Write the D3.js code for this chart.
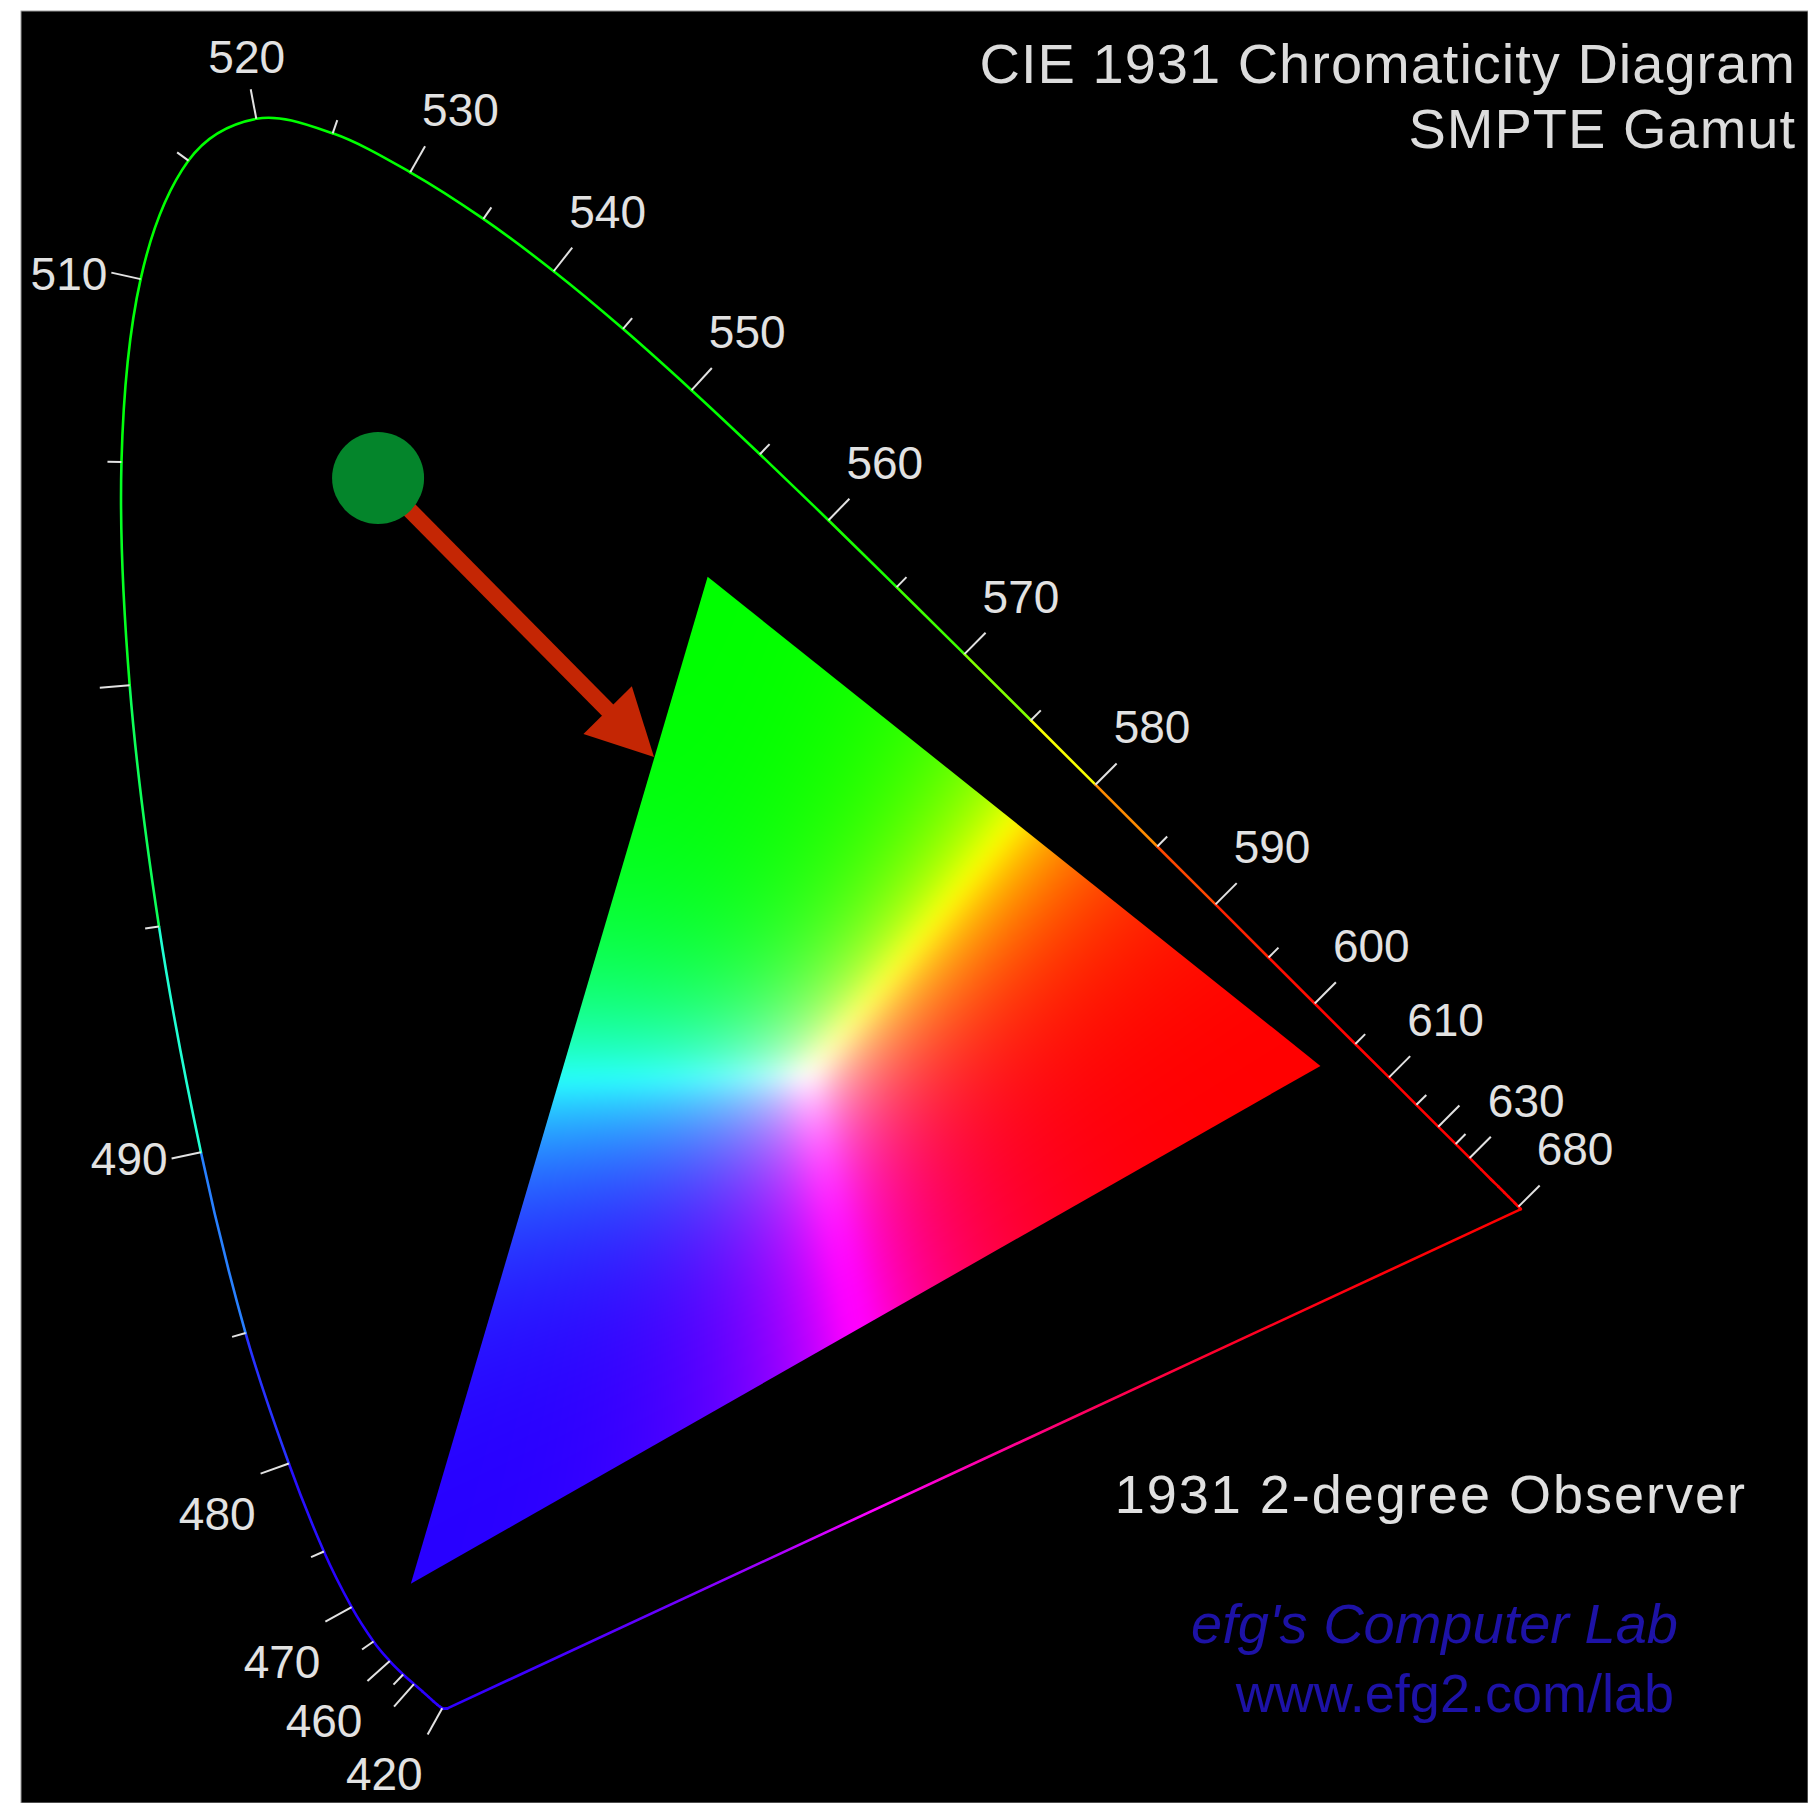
<!DOCTYPE html>
<html>
<head>
<meta charset="utf-8">
<script src="https://cdn.jsdelivr.net/npm/d3@7"></script>
<style>
  body { margin: 0; background: #fff; }
  svg { display: block; }
  text { font-family: "Liberation Sans", Arial, sans-serif; }
</style>
</head>
<body>
<div id="chart"></div>
<script>
// CIE 1931 2-degree observer, spectral locus (nm, x, y)
const wavelengths = [380,385,390,395,400,405,410,415,420,425,430,435,440,445,450,455,460,465,470,475,
  480,485,490,495,500,505,510,515,520,525,530,535,540,545,550,555,560,565,570,575,
  580,585,590,595,600,605,610,615,620,625,630,635,640,645,650,655,660,665,670,675,
  680,685,690,695,700];
const locusX = [0.1741,0.1740,0.1738,0.1736,0.1733,0.1730,0.1726,0.1721,0.1714,0.1703,0.1689,0.1669,0.1644,0.1611,0.1566,0.1510,0.1440,0.1355,0.1241,0.1096,
  0.0913,0.0687,0.0454,0.0235,0.0082,0.0039,0.0139,0.0389,0.0743,0.1142,0.1547,0.1929,0.2296,0.2658,0.3016,0.3373,0.3731,0.4087,0.4441,0.4788,
  0.5125,0.5448,0.5752,0.6029,0.6270,0.6482,0.6658,0.6801,0.6915,0.7006,0.7079,0.7140,0.7190,0.7230,0.7260,0.7283,0.7300,0.7311,0.7320,0.7327,
  0.7334,0.7340,0.7344,0.7346,0.7347];
const locusY = [0.0050,0.0050,0.0049,0.0049,0.0048,0.0048,0.0048,0.0048,0.0051,0.0058,0.0069,0.0086,0.0109,0.0138,0.0177,0.0227,0.0297,0.0399,0.0578,0.0868,
  0.1327,0.2007,0.2950,0.4127,0.5384,0.6548,0.7502,0.8120,0.8338,0.8262,0.8059,0.7816,0.7543,0.7243,0.6923,0.6589,0.6245,0.5896,0.5547,0.5202,
  0.4866,0.4544,0.4242,0.3965,0.3725,0.3514,0.3340,0.3197,0.3083,0.2993,0.2920,0.2859,0.2809,0.2770,0.2740,0.2717,0.2700,0.2689,0.2680,0.2673,
  0.2666,0.2660,0.2656,0.2654,0.2653];

// tick marks and labelled wavelengths
const tickWaves = [420,450,455,460,465,470,475,480,485,490,495,500,505,510,515,520,525,530,535,540,545,
  550,555,560,565,570,575,580,585,590,595,600,605,610,615,620,625,630,680];
const labelWaves = [420,460,470,480,490,510,520,530,540,550,560,570,580,590,600,610,630,680];

// SMPTE gamut primaries (R, G, B)
const gamutNames = ["R", "G", "B"];
const gamutX = [0.630, 0.310, 0.155];
const gamutY = [0.340, 0.595, 0.070];

// annotation: dot and arrow pointing at the gamut
const markerXY = [0.1379, 0.6465];
const arrowTipXY = [0.282, 0.501];

const width = 1808, height = 1803;

let svg = d3.select("#chart")
  .append("svg")
  .attr("width", width)
  .attr("height", height)
  .attr("viewBox", [0, 0, width, height]);

let x = d3.scaleLinear().domain([0, 1]).range([114, 2029]);
let y = d3.scaleLinear().domain([0, 1]).range([1718, -200]);

// black plot area with white margin on left/top
svg.append("rect")
  .attr("x", 21).attr("y", 11)
  .attr("width", width - 21).attr("height", height - 11)
  .attr("fill", "#000")
  .attr("stroke", "#9a9a9a").attr("stroke-width", 1);

// barycentric weights of a chromaticity against the gamut primaries
function bary(cx, cy) {
  const [xr, xg, xb] = gamutX, [yr, yg, yb] = gamutY;
  const det = (xr - xb) * (yg - yb) - (xg - xb) * (yr - yb);
  const r = ((cx - xb) * (yg - yb) - (xg - xb) * (cy - yb)) / det;
  const g = ((xr - xb) * (cy - yb) - (cx - xb) * (yr - yb)) / det;
  return [r, g, 1 - r - g];
}

function rgbOf(b, k) {
  let r = Math.max(0, b[0]), g = Math.max(0, b[1]), bl = Math.max(0, b[2]);
  const m = Math.max(r, g, bl) || 1;
  r = Math.pow(r / m, k); g = Math.pow(g / m, k); bl = Math.pow(bl / m, k);
  return [Math.min(255, 255 * r + 40 * bl), 255 * g, 255 * bl];
}
const rgbStr = c => `rgb(${c.map(v => Math.round(v)).join(",")})`;

// gamut triangle: colour field on a canvas, box-blurred, clipped to the triangle
const vx = gamutX.map(v => x(v)), vy = gamutY.map(v => y(v));
const pad = 40;
const x0 = Math.floor(d3.min(vx)) - pad, x1 = Math.ceil(d3.max(vx)) + pad;
const y0 = Math.floor(d3.min(vy)) - pad, y1 = Math.ceil(d3.max(vy)) + pad;
const cw = x1 - x0, ch = y1 - y0;
const chan = [new Float32Array(cw * ch), new Float32Array(cw * ch), new Float32Array(cw * ch)];
for (let j = 0; j < ch; j++) {
  for (let i = 0; i < cw; i++) {
    const c = rgbOf(bary(x.invert(x0 + i + 0.5), y.invert(y0 + j + 0.5)), 2.2);
    const p = j * cw + i;
    chan[0][p] = c[0]; chan[1][p] = c[1]; chan[2][p] = c[2];
  }
}
function boxPass(a, n, count, stride, lineStride, lines, r) {
  const tmp = new Float32Array(count);
  for (let l = 0; l < lines; l++) {
    const off = l * lineStride;
    let sum = 0;
    for (let k = -r; k <= r; k++) sum += a[off + Math.min(count - 1, Math.max(0, k)) * stride];
    for (let k = 0; k < count; k++) {
      tmp[k] = sum / (2 * r + 1);
      const add = Math.min(count - 1, k + r + 1), sub = Math.max(0, k - r);
      sum += a[off + add * stride] - a[off + sub * stride];
    }
    for (let k = 0; k < count; k++) a[off + k * stride] = tmp[k];
  }
}
chan.forEach(a => {
  for (let pass = 0; pass < 3; pass++) {
    boxPass(a, cw * ch, cw, 1, cw, ch, 9);   // rows
    boxPass(a, cw * ch, ch, cw, 1, cw, 9);   // columns
  }
});
const canvas = document.createElement("canvas");
canvas.width = cw; canvas.height = ch;
const ctx = canvas.getContext("2d");
const img = ctx.createImageData(cw, ch);
for (let p = 0; p < cw * ch; p++) {
  img.data[p * 4] = chan[0][p]; img.data[p * 4 + 1] = chan[1][p]; img.data[p * 4 + 2] = chan[2][p];
  img.data[p * 4 + 3] = 255;
}
ctx.putImageData(img, 0, 0);

const defs = svg.append("defs");
defs.append("clipPath").attr("id", "gamut")
  .append("polygon")
  .attr("points", vx.map((v, i) => [v, vy[i]].join(",")).join(" "));

svg.append("g")
  .attr("clip-path", "url(#gamut)")
  .append("image")
  .attr("x", x0).attr("y", y0)
  .attr("width", cw).attr("height", ch)
  .attr("href", canvas.toDataURL());

// spectral locus, one smooth piece per 5 nm coloured by its chromaticity
const pts = wavelengths.map((w, i) => [x(locusX[i]), y(locusY[i])]);
const segs = d3.range(pts.length - 1).map(i => {
  const a = pts[Math.max(0, i - 1)], p0 = pts[i], p1 = pts[i + 1], b = pts[Math.min(pts.length - 1, i + 2)];
  const path = d3.path();
  path.moveTo(p0[0], p0[1]);
  path.bezierCurveTo(p0[0] + (p1[0] - a[0]) / 6, p0[1] + (p1[1] - a[1]) / 6,
                     p1[0] - (b[0] - p0[0]) / 6, p1[1] - (b[1] - p0[1]) / 6, p1[0], p1[1]);
  return {d: path.toString(), cx: (locusX[i] + locusX[i + 1]) / 2, cy: (locusY[i] + locusY[i + 1]) / 2};
});
svg.append("g")
  .selectAll("path")
  .data(segs)
  .join("path")
  .attr("d", d => d.d)
  .attr("fill", "none")
  .attr("stroke", d => rgbStr(rgbOf(bary(d.cx, d.cy), 1.5)))
  .attr("stroke-width", 2.6)
  .attr("stroke-linecap", "round");

// line of purples with a gradient
const iL = wavelengths.length - 1;
const grad = defs.append("linearGradient")
  .attr("id", "purple")
  .attr("gradientUnits", "userSpaceOnUse")
  .attr("x1", pts[iL][0]).attr("y1", pts[iL][1])
  .attr("x2", pts[0][0]).attr("y2", pts[0][1]);
grad.selectAll("stop")
  .data(d3.range(0, 1.001, 0.1))
  .join("stop")
  .attr("offset", t => t)
  .attr("stop-color", t => rgbStr(rgbOf(bary(locusX[iL] + (locusX[0] - locusX[iL]) * t,
                                              locusY[iL] + (locusY[0] - locusY[iL]) * t), 1.5)));
svg.append("line")
  .attr("x1", pts[iL][0]).attr("y1", pts[iL][1])
  .attr("x2", pts[0][0]).attr("y2", pts[0][1])
  .attr("stroke", "url(#purple)")
  .attr("stroke-width", 2.6);

// ticks perpendicular to the locus, pointing outwards
const white = [x(0.33), y(0.33)];
function tickGeom(w) {
  const i = wavelengths.indexOf(w);
  const p = pts[i];
  const tx = pts[i + 1][0] - pts[i - 1][0], ty = pts[i + 1][1] - pts[i - 1][1];
  const len = Math.hypot(tx, ty);
  let n = [ty / len, -tx / len];
  if (n[0] * (p[0] - white[0]) + n[1] * (p[1] - white[1]) < 0) n = [-n[0], -n[1]];
  const L = w % 10 === 0 ? 30 : 14;
  return {w: w, p: p, n: n, e: [p[0] + n[0] * L, p[1] + n[1] * L]};
}
const ticks = tickWaves.map(tickGeom);
svg.append("g")
  .selectAll("line")
  .data(ticks)
  .join("line")
  .attr("x1", d => d.p[0]).attr("y1", d => d.p[1])
  .attr("x2", d => d.e[0]).attr("y2", d => d.e[1])
  .attr("stroke", "#e2e2e2")
  .attr("stroke-width", 2);

function labelPos(d) {
  const [nx, ny] = d.n, [ex, ey] = d.e;
  if (ny > 0.3) return {x: ex - 5, y: ey + 56, a: "end"};       // below left
  if (nx < -0.85) return {x: ex - 4, y: ey + 17, a: "end"};     // left
  if (nx > 0.35) return {x: ex - 3, y: ey - 20, a: "start"};    // above right
  return {x: ex - 4, y: ey - 16, a: "middle"};                  // above
}
svg.append("g")
  .selectAll("text")
  .data(ticks.filter(d => labelWaves.includes(d.w)))
  .join("text")
  .each(function(d) {
    const l = labelPos(d);
    d3.select(this).attr("x", l.x).attr("y", l.y).attr("text-anchor", l.a);
  })
  .attr("fill", "#e2e2e2")
  .attr("font-size", 46)
  .text(d => d.w);

// arrow and dot
const s = [x(markerXY[0]), y(markerXY[1])], t = [x(arrowTipXY[0]), y(arrowTipXY[1])];
const dl = Math.hypot(t[0] - s[0], t[1] - s[1]);
const u = [(t[0] - s[0]) / dl, (t[1] - s[1]) / dl], pp = [-u[1], u[0]];
const headLen = 66, headHalf = 34;
const base = [t[0] - u[0] * headLen, t[1] - u[1] * headLen];
svg.append("line")
  .attr("x1", s[0]).attr("y1", s[1])
  .attr("x2", base[0] + u[0] * 4).attr("y2", base[1] + u[1] * 4)
  .attr("stroke", "#c42604")
  .attr("stroke-width", 16);
svg.append("polygon")
  .attr("points", [t, [base[0] + pp[0] * headHalf, base[1] + pp[1] * headHalf],
                      [base[0] - pp[0] * headHalf, base[1] - pp[1] * headHalf]].map(q => q.join(",")).join(" "))
  .attr("fill", "#c42604");
svg.append("circle")
  .attr("cx", s[0]).attr("cy", s[1])
  .attr("r", 46)
  .attr("fill", "#04852b");

// titles and credits
const titles = [
  {t: "CIE 1931 Chromaticity Diagram", x: 1796, y: 83, size: 56, ls: 1, fill: "#dcdcdc", style: "normal"},
  {t: "SMPTE Gamut", x: 1796, y: 148, size: 56, ls: 1, fill: "#dcdcdc", style: "normal"},
  {t: "1931 2-degree Observer", x: 1747, y: 1513, size: 54, ls: 2, fill: "#e0e0e0", style: "normal"},
  {t: "efg's Computer Lab", x: 1678, y: 1643, size: 56, ls: 0, fill: "#1d12a6", style: "italic"},
  {t: "www.efg2.com/lab", x: 1674, y: 1712, size: 54, ls: 0, fill: "#1d12a6", style: "normal"}
];
svg.append("g")
  .selectAll("text")
  .data(titles)
  .join("text")
  .attr("x", d => d.x).attr("y", d => d.y)
  .attr("text-anchor", "end")
  .attr("font-size", d => d.size)
  .attr("letter-spacing", d => d.ls)
  .attr("font-style", d => d.style)
  .attr("fill", d => d.fill)
  .text(d => d.t);
</script>
</body>
</html>
